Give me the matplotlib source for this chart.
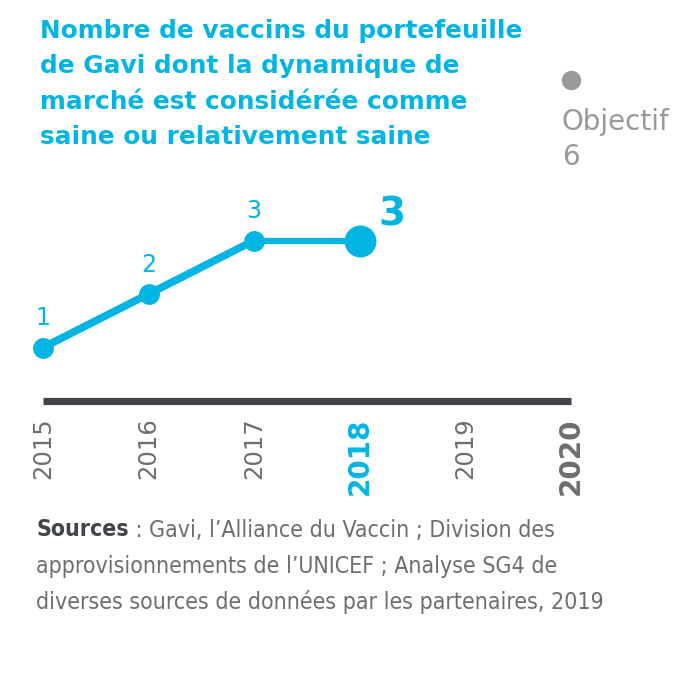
import matplotlib
matplotlib.use("Agg")
import matplotlib.pyplot as plt

# data
years = [2015, 2016, 2017, 2018]
values = [1, 2, 3, 3]
all_years = [2015, 2016, 2017, 2018, 2019, 2020]
target_year = 2020
target_value = 6

cyan = "#00b5e2"
dark = "#414549"
grey = "#6d6e71"
light_grey = "#97999b"

fig = plt.figure(figsize=(7, 7), dpi=100)
# axes placed so 2015..2020 and 0..6 land where the original has them
ax = fig.add_axes([43 / 700, 299 / 700, 528 / 700, 321 / 700])
ax.set_xlim(2015, 2020)
ax.set_ylim(0, 6)
ax.axis("off")

# baseline
ax.plot([all_years[0], all_years[-1]], [0, 0], color=dark, lw=5.2,
        solid_capstyle="butt", clip_on=False)

# series
ax.plot(years[:3], values[:3], color=cyan, lw=5.5, solid_capstyle="round", clip_on=False)
ax.plot(years[2:], values[2:], color=cyan, lw=4.5, clip_on=False)
ax.plot(years[:3], values[:3], "o", color=cyan, ms=15, mec="none", clip_on=False)
ax.plot(years[3], values[3], "o", color=cyan, ms=23, mec="none", clip_on=False)

for x, v in zip(years[:3], values[:3]):
    ax.annotate(str(v), (x, v), xytext=(0, 21), textcoords="offset points",
                ha="center", va="center", color=cyan, fontsize=17)
ax.annotate(str(values[-1]), (years[-1], values[-1]), xytext=(23, 19),
            textcoords="offset points", ha="center", va="center",
            color=cyan, fontsize=28, fontweight="bold")

# target
ax.plot(target_year, target_value, "o", color=light_grey, ms=14, mec="none", clip_on=False)
ax.annotate("Objectif\n" + str(target_value), (target_year, target_value),
            xytext=(-6.5, -20), textcoords="offset points", ha="left", va="top",
            color=light_grey, fontsize=20, linespacing=1.32)

# year labels
for yr in all_years:
    if yr == 2018:
        col, fw, fs = cyan, "bold", 20
    elif yr == 2020:
        col, fw, fs = grey, "bold", 20
    else:
        col, fw, fs = grey, "normal", 17.5
    ax.annotate(str(yr), (yr, 0), xytext=(0, -12), textcoords="offset points",
                rotation=90, ha="center", va="top", color=col,
                fontsize=fs, fontweight=fw)

# title
fig.text(40 / 700, 1 - 19 / 700,
         "Nombre de vaccins du portefeuille\nde Gavi dont la dynamique de\n"
         "marché est considérée comme\nsaine ou relativement saine",
         ha="left", va="top", color=cyan, fontsize=17.8, fontweight="bold",
         linespacing=1.6)

# sources
src_kw = dict(family="DejaVu Sans", stretch="condensed", fontsize=16.6)
bold_txt = fig.text(36 / 700, 1 - 530 / 700, "Sources", ha="left", va="center",
                    color=dark, fontweight="bold", **src_kw)
fig.canvas.draw()
bb = bold_txt.get_window_extent()
fig.text(bb.x1 / 700, 1 - 530 / 700,
         " : Gavi, l’Alliance du Vaccin ; Division des",
         ha="left", va="center", color=grey, **src_kw)
fig.text(36 / 700, 1 - 566 / 700,
         "approvisionnements de l’UNICEF ; Analyse SG4 de",
         ha="left", va="center", color=grey, **src_kw)
fig.text(36 / 700, 1 - 602 / 700,
         "diverses sources de données par les partenaires, 2019",
         ha="left", va="center", color=grey, **src_kw)

fig.savefig("out.png", dpi=100)
